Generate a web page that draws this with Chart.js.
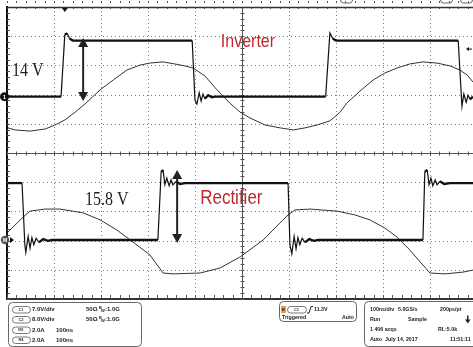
<!DOCTYPE html>
<html><head><meta charset="utf-8">
<script src="https://cdn.jsdelivr.net/npm/chart.js@4/dist/chart.umd.min.js"></script>
<style>html,body{margin:0;padding:0;background:#fff;overflow:hidden}</style>
</head><body>
<canvas id="c" width="473" height="347"></canvas>
<script>
// ---- data: time in ns (100 ns/div), amplitude in screen divisions ----
const xMaxNs = 991.5;
const inverterVoltage = [[2,1.93],[115,1.93],[123,4.05],[128,4.1],[133,3.92],[140,3.85],[394,3.85],[400,1.8],[404,1.68],[409,2.06],[413,1.78],[417,2.02],[421,1.86],[428,1.98],[436,1.91],[442,1.93],[678,1.93],[687,4.11],[693,3.92],[700,3.85],[960,3.85],[968,1.6],[972,2.02],[977,1.74],[981,1.98],[985,1.84],[991.5,1.93]];
const inverterCurrent = [[2,0.86],[17,0.79],[49,0.75],[81,0.82],[102,0.96],[123,1.13],[145,1.4],[166,1.68],[198,2.16],[226,2.5],[255,2.84],[283,3.01],[304,3.08],[332,3.12],[357,3.05],[379,2.98],[396,2.91],[421,2.64],[447,2.16],[474,1.71],[496,1.4],[517,1.2],[549,0.96],[581,0.86],[609,0.79],[634,0.86],[660,0.96],[687,1.1],[709,1.4],[723,1.71],[751,2.12],[779,2.5],[804,2.74],[830,2.91],[857,3.05],[885,3.12],[915,3.08],[943,2.98],[964,2.84],[979,2.67],[991.5,2.43]];
const rectifierVoltage = [[2,-1.03],[32,-1.03],[38,-3.15],[40,-3.4],[45,-2.86],[49,-3.26],[53,-2.9],[57,-3.14],[62,-2.92],[68,-3.06],[77,-2.95],[87,-3.01],[96,-2.98],[321,-2.98],[328,-0.65],[332,-0.58],[336,-1.08],[340,-0.86],[345,-1.12],[349,-0.92],[353,-1.09],[360,-0.97],[368,-1.06],[379,-1.03],[598,-1.03],[602,-3.15],[606,-3.45],[611,-2.86],[615,-3.28],[619,-2.9],[623,-3.14],[628,-2.92],[634,-3.06],[643,-2.95],[653,-3.01],[662,-2.98],[885,-2.98],[889,-0.65],[894,-0.58],[898,-1.08],[902,-0.86],[906,-1.12],[911,-0.92],[915,-1.09],[921,-0.97],[930,-1.06],[943,-1.03],[991.5,-1.03]];
const rectifierCurrent = [[2,-2.71],[17,-2.47],[32,-2.23],[49,-1.99],[81,-1.92],[113,-1.92],[162,-2.05],[198,-2.29],[234,-2.64],[268,-3.05],[304,-3.49],[332,-4.11],[353,-4.14],[411,-4.11],[453,-3.94],[496,-3.56],[545,-2.98],[570,-2.57],[598,-2.12],[613,-1.95],[645,-1.92],[702,-1.99],[740,-2.12],[772,-2.29],[804,-2.57],[830,-2.88],[857,-3.32],[879,-3.73],[900,-4.11],[932,-4.14],[970,-4.08],[991.5,-4.01]];

// annotations (data coordinates)
const annotationTexts = [
  {text:"14 V", t:10.6, v:2.81, font:"16px 'Liberation Serif'", color:"#222"},
  {text:"15.8 V", t:166, v:-1.61, font:"16px 'Liberation Serif'", color:"#222"},
  {text:"Inverter", t:455, v:3.8, font:"16px 'Liberation Sans'", color:"#c0272d"},
  {text:"Rectifier", t:411, v:-1.55, font:"17px 'Liberation Sans'", color:"#c0272d"}
];
const arrows = [{t:162, top:3.94, bottom:1.78},{t:362, top:-0.58, bottom:-3.08}];
const channelRows = [["C1","7.0V/div","50Ω","1.0G"],["C2","8.0V/div","50Ω","1.0G"],["M1","2.0A","100ns"],["R4","2.0A","100ns"]];
const triggerRows = [["C1","11.3V"],["Triggered","Auto"]];
const acqRows = [["100ns/div","5.0GS/s","200ps/pt"],["Run","Sample","⬇"],["1 406 acqs","","RL:5.0k"],["Auto","July 14, 2017","11:51:11"]];

const toXY = a => a.map(([x,y]) => ({x, y}));
// thin stroke on steep edges and ringing, thick on the noisy flat parts
const edgeWidth = c => Math.abs(c.p1.parsed.y - c.p0.parsed.y) > 0.12 ? 1.2 : 2.3;

function rrect(ctx,x,y,w,h,r){ctx.beginPath();ctx.moveTo(x+r,y);ctx.lineTo(x+w-r,y);ctx.quadraticCurveTo(x+w,y,x+w,y+r);ctx.lineTo(x+w,y+h-r);ctx.quadraticCurveTo(x+w,y+h,x+w-r,y+h);ctx.lineTo(x+r,y+h);ctx.quadraticCurveTo(x,y+h,x,y+h-r);ctx.lineTo(x,y+r);ctx.quadraticCurveTo(x,y,x+r,y);ctx.closePath();}

const graticule = {
  id:'graticule',
  beforeDatasetsDraw(chart){
    const {ctx, chartArea:a, scales:{x,y}} = chart;
    ctx.save();
    ctx.strokeStyle='#7a7a7a'; ctx.lineWidth=1; ctx.setLineDash([1,3]);
    ctx.beginPath();
    for(let t=100;t<xMaxNs;t+=100){ if(t===500) continue; const px=Math.round(x.getPixelForValue(t))+0.5; ctx.moveTo(px,a.top); ctx.lineTo(px,a.bottom);}
    for(let v=-4;v<=4;v+=1){ if(v===0) continue; const py=Math.round(y.getPixelForValue(v))+0.5; ctx.moveTo(a.left,py); ctx.lineTo(a.right,py);}
    ctx.stroke(); ctx.setLineDash([]);
    ctx.strokeStyle='#555'; ctx.lineWidth=1;
    const cx = Math.round(x.getPixelForValue(500))+0.5, cy = Math.round(y.getPixelForValue(0))+0.5;
    ctx.beginPath(); ctx.moveTo(cx,a.top); ctx.lineTo(cx,a.bottom); ctx.moveTo(a.left,cy); ctx.lineTo(a.right,cy); ctx.stroke();
    ctx.beginPath();
    for(let t=0;t<=xMaxNs;t+=20){const px=Math.round(x.getPixelForValue(t))+0.5;
      ctx.moveTo(px,cy-2);ctx.lineTo(px,cy+2);
      ctx.moveTo(px,a.bottom);ctx.lineTo(px,a.bottom-4);
      ctx.moveTo(px,a.top);ctx.lineTo(px,a.top+2);
      ctx.moveTo(px,1);ctx.lineTo(px,3);}
    for(let v=-5;v<=5.001;v+=0.2){const py=Math.round(y.getPixelForValue(v))+0.5;
      ctx.moveTo(cx-2,py);ctx.lineTo(cx+2,py);
      ctx.moveTo(a.left,py);ctx.lineTo(a.left+3,py);}
    ctx.stroke();
    ctx.strokeStyle='#333'; ctx.lineWidth=1.5;
    ctx.beginPath(); ctx.moveTo(a.left,a.top+0.5); ctx.lineTo(a.right,a.top+0.5); ctx.stroke();
    ctx.restore();
  },
  afterDatasetsDraw(chart){
    const {ctx, scales:{x,y}} = chart;
    ctx.save();
    annotationTexts.forEach(o=>{
      ctx.save(); ctx.font=o.font; ctx.fillStyle=o.color; ctx.textBaseline='middle';
      ctx.translate(x.getPixelForValue(o.t), y.getPixelForValue(o.v)); ctx.scale(1,1.15);
      ctx.fillText(o.text,0,0); ctx.restore();
    });
    ctx.fillStyle='#222'; ctx.strokeStyle='#222'; ctx.lineWidth=2;
    arrows.forEach(o=>{
      const px=x.getPixelForValue(o.t), y1=y.getPixelForValue(o.top), y2=y.getPixelForValue(o.bottom);
      ctx.beginPath(); ctx.moveTo(px,y1+6); ctx.lineTo(px,y2-6); ctx.stroke();
      ctx.beginPath(); ctx.moveTo(px,y1); ctx.lineTo(px-5,y1+9); ctx.lineTo(px+5,y1+9); ctx.closePath(); ctx.fill();
      ctx.beginPath(); ctx.moveTo(px,y2); ctx.lineTo(px-5,y2-9); ctx.lineTo(px+5,y2-9); ctx.closePath(); ctx.fill();
    });
    const m1y=y.getPixelForValue(1.93), m2y=y.getPixelForValue(-2.98);
    ctx.fillStyle='#111'; ctx.beginPath(); ctx.arc(4.5,m1y,4.5,0,Math.PI*2); ctx.fill();
    ctx.fillStyle='#fff'; ctx.font="bold 6px 'Liberation Sans'"; ctx.textAlign='center'; ctx.textBaseline='middle'; ctx.fillText('1',4.5,m1y+0.5);
    ctx.fillStyle='#555'; ctx.beginPath(); ctx.arc(5,m2y,4.2,0,Math.PI*2); ctx.fill();
    ctx.fillStyle='#fff'; ctx.font="bold 5px 'Liberation Sans'"; ctx.fillText('M',5,m2y+0.5);
    ctx.fillStyle='#111'; ctx.beginPath(); ctx.moveTo(14,m2y); ctx.lineTo(10,m2y-3); ctx.lineTo(10,m2y+3); ctx.closePath(); ctx.fill();
    const tx=x.getPixelForValue(123);
    ctx.beginPath(); ctx.moveTo(tx-3,8); ctx.lineTo(tx+3,8); ctx.lineTo(tx,12); ctx.closePath(); ctx.fill();
    const ly=y.getPixelForValue(3.56);
    ctx.beginPath(); ctx.moveTo(466,ly); ctx.lineTo(469,ly-2); ctx.lineTo(469,ly+2); ctx.closePath(); ctx.fill();
    ctx.fillRect(469,ly-0.5,3,1);
    ctx.restore();
  },
  afterDraw(chart){
    const ctx=chart.ctx;
    ctx.save();
    ctx.strokeStyle='#666'; ctx.lineWidth=1;
    rrect(ctx,8.5,302.5,133,44,4); ctx.stroke();
    rrect(ctx,279.5,301.5,77,20,4); ctx.stroke();
    rrect(ctx,364.5,301.5,115,45,4); ctx.stroke();
    rrect(ctx,340.5,-6,12,9,3); ctx.stroke();
    rrect(ctx,440.5,-6,12,9,3); ctx.stroke();
    rrect(ctx,460.5,-6,12,9,3); ctx.stroke();
    ctx.fillStyle='#222'; ctx.textBaseline='middle'; ctx.textAlign='left';
    const oval=(x,y,w,t)=>{ctx.save();ctx.strokeStyle='#555';ctx.lineWidth=0.8;rrect(ctx,x+0.5,y-3,w,6.5,3.2);ctx.stroke();ctx.font="bold 4px 'Liberation Sans'";ctx.textAlign='center';ctx.fillStyle='#333';ctx.fillText(t,x+w/2,y+0.3);ctx.restore();};
    const f="bold 6px 'Liberation Sans'", f2="bold 5.3px 'Liberation Sans'";
    ctx.font=f;
    const rowY=[309.5,319.5,330,340];
    channelRows.forEach((r,i)=>{
      oval(12,rowY[i],18,r[0]);
      ctx.fillText(r[1],32,rowY[i]);
      if(i<2){ctx.fillText(r[2],86,rowY[i]); ctx.font="bold 4px 'Liberation Sans'"; ctx.fillText('B',99,rowY[i]-2); ctx.fillText('W',101,rowY[i]+1.5); ctx.font=f; ctx.fillText(':'+r[3],105,rowY[i]);}
      else ctx.fillText(r[2],56,rowY[i]);
    });
    ctx.fillStyle='#e8a23c'; ctx.fillRect(281,306,5,7);
    ctx.fillStyle='#222'; ctx.font="bold 4px 'Liberation Sans'"; ctx.fillText('B',282,309.8);
    ctx.font=f2;
    oval(287,309.5,19,triggerRows[0][0]);
    ctx.strokeStyle='#222'; ctx.lineWidth=1; ctx.beginPath(); ctx.moveTo(307,313); ctx.lineTo(309,313); ctx.lineTo(311,306.5); ctx.lineTo(313,306.5); ctx.stroke();
    ctx.fillText(triggerRows[0][1],314,309.5);
    ctx.fillText(triggerRows[1][0],282,318);
    ctx.fillText(triggerRows[1][1],342,318);
    const acqX=[[370,398,440],[370,408,466],[370,0,438],[370,385,450]];
    acqRows.forEach((r,i)=>{r.forEach((s,j)=>{ if(s){ if(s==='⬇'){ctx.fillRect(467,rowY[i]-4,1.5,5);ctx.beginPath();ctx.moveTo(465,rowY[i]);ctx.lineTo(470.5,rowY[i]);ctx.lineTo(467.75,rowY[i]+4);ctx.closePath();ctx.fill();} else ctx.fillText(s,acqX[i][j],rowY[i]);}});});
    ctx.restore();
  }
};

new Chart(document.getElementById('c'), {
  type:'line',
  data:{datasets:[
    {label:'Inverter voltage', data:toXY(inverterVoltage), borderColor:'#111', borderWidth:2.3, segment:{borderWidth:edgeWidth}},
    {label:'Inverter current', data:toXY(inverterCurrent), borderColor:'#333', borderWidth:1},
    {label:'Rectifier voltage', data:toXY(rectifierVoltage), borderColor:'#111', borderWidth:2.3, segment:{borderWidth:edgeWidth}},
    {label:'Rectifier current', data:toXY(rectifierCurrent), borderColor:'#333', borderWidth:1}
  ]},
  options:{
    responsive:false, devicePixelRatio:1, animation:false,
    layout:{padding:{left:7,top:7,right:0,bottom:48}},
    elements:{point:{radius:0}, line:{tension:0}},
    plugins:{legend:{display:false}, tooltip:{enabled:false}},
    scales:{
      x:{type:'linear', min:0, max:xMaxNs, ticks:{display:false, stepSize:100},
         grid:{display:false, drawTicks:false},
         border:{display:true, color:'#333', width:2}},
      y:{type:'linear', min:-5, max:5, ticks:{display:false, stepSize:1},
         grid:{display:false, drawTicks:false},
         border:{display:true, color:'#111', width:2}}
    }
  },
  plugins:[graticule]
});
</script>
</body></html>
